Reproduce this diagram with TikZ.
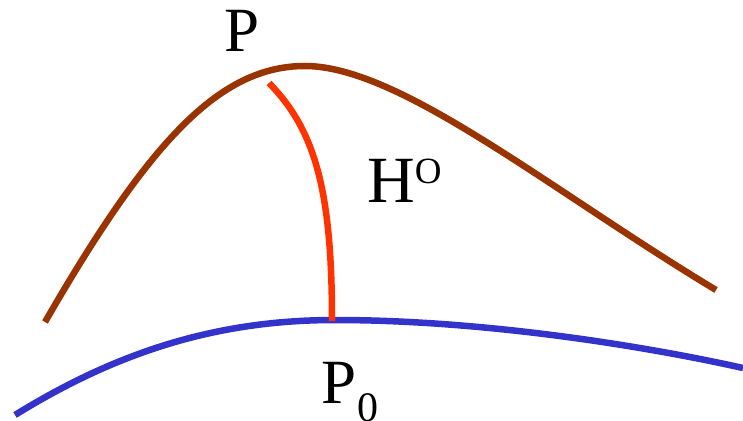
\documentclass[tikz,border=0pt]{standalone}
\usepackage{fontspec}
\setmainfont{Liberation Serif}
\usetikzlibrary{positioning}
\definecolor{curvecol}{RGB}{153,51,0}
\definecolor{pathcol}{RGB}{255,51,0}
\definecolor{basecol}{RGB}{51,51,204}

\begin{document}
\begin{tikzpicture}[
    x=1pt, y=-1pt,
    crv/.style={line width=6.5pt},
    lbl/.style={inner sep=0pt, anchor=base west},
]
\useasboundingbox (0,0) rectangle (743,420);
% upper curve
\draw[crv, curvecol] (45,322) .. controls (150,140) and (220,66) .. (305,66)
  .. controls (400,66) and (550,190) .. (716,290);
% lower curve
\draw[crv, basecol] (15,415) .. controls (120,350) and (220,320) .. (335,320)
  .. controls (480,320) and (640,345) .. (743,368);
% connecting path
\coordinate (top) at (269,83);
\coordinate (foot) at (332,321);
\draw[crv, pathcol] (top) .. controls (315,130) and (332,190) .. (foot);
% labels
\node[lbl] (p) at (224,52) {\fontsize{63}{63}\selectfont P};
\node[lbl] (h) at (367,202) {\fontsize{66}{66}\selectfont H\raisebox{19pt}{\fontsize{37}{37}\selectfont O}};
\node[lbl] (p0) at (321,403) {\fontsize{63}{63}\selectfont P\hspace{1pt}\raisebox{-18pt}{\fontsize{42}{42}\selectfont 0}};
\end{tikzpicture}
\end{document}
